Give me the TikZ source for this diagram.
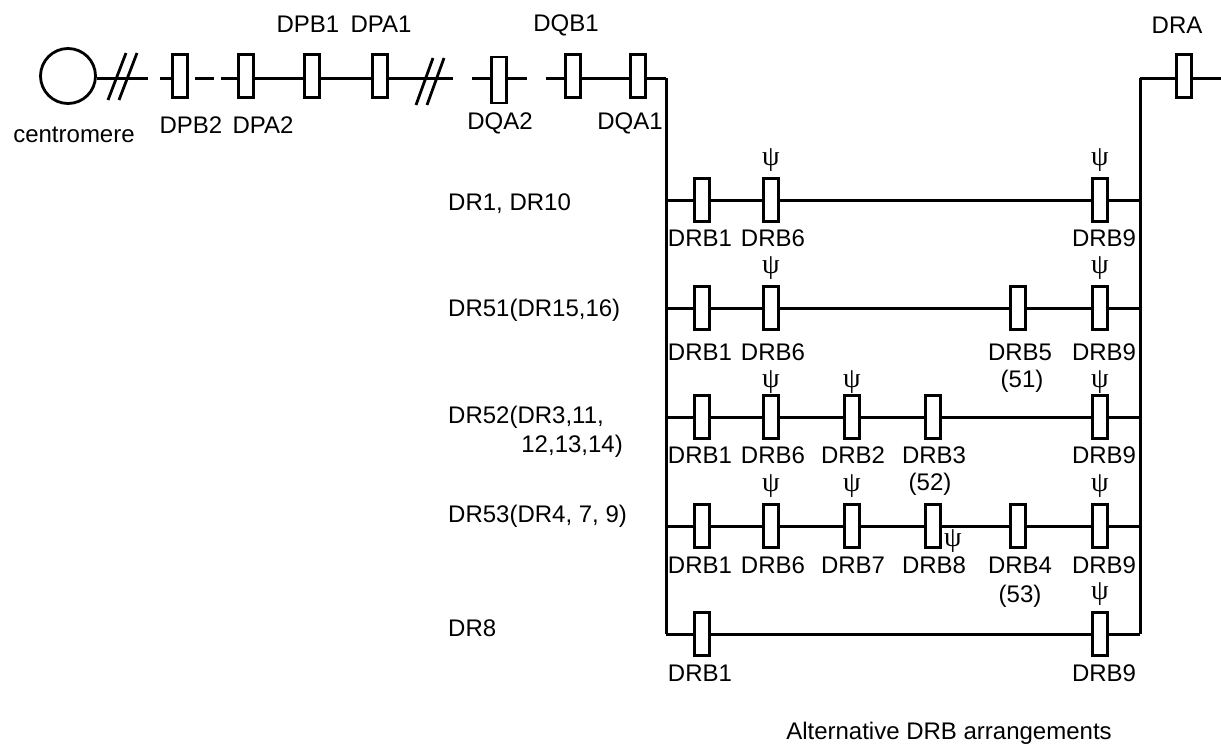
\documentclass[tikz,border=0pt]{standalone}
\usepackage{fontspec}
\setmainfont{Liberation Sans}
\newfontfamily\psifont{Liberation Serif}
\begin{document}
\begin{tikzpicture}[x=1pt,y=-1pt,
  wire/.style={line width=3pt},
  gene/.style={draw,line width=2.6pt,fill=white,minimum width=15pt,minimum height=43pt,inner sep=0pt},
  lbl/.style={font=\fontsize{24}{28}\selectfont,inner sep=0pt},
  psi/.style={font=\psifont\fontsize{28}{30}\selectfont,inner sep=0pt},
  brk/.style={line width=2.8pt}]
\useasboundingbox (0,0) rectangle (1221,745);
% ---------- top chain ----------
\node[draw,circle,line width=2.8pt,minimum size=55pt,inner sep=0pt] (cen) at (68,76) {};
\coordinate (c1) at (148,78);
\coordinate (c2) at (160,78);
\node[gene] (dpb2) at (180,76) {};
\coordinate (d1) at (195,78);
\coordinate (d2) at (214,78);
\coordinate (d3) at (221,78);
\node[gene] (dpa2) at (246,76) {};
\node[gene] (dpb1) at (312,76) {};
\node[gene] (dpa1) at (380,76) {};
\coordinate (c3) at (453,78);
\coordinate (c4) at (472,78);
\node[gene,minimum height=46pt] (dqa2) at (499,80) {};
\coordinate (c5) at (527,78);
\coordinate (c6) at (546,78);
\node[gene] (dqb1) at (573,76) {};
\node[gene] (dqa1) at (638,76) {};
\coordinate (tl) at (666,78);
\coordinate (tr) at (1140,78);
\node[gene] (dra) at (1184,76) {};
\coordinate (endr) at (1221,78);

\draw[wire] (cen.east |- c1) -- (c1);
\draw[brk] (108,100) -- (126,53);
\draw[brk] (119,100) -- (137,53);
\draw[wire] (c2) -- (c2 -| dpb2.west);
\draw[wire] (d1) -- (d2);
\draw[wire] (d3) -- (d3 -| dpa2.west);
\draw[wire] (dpa2.east |- c1) -- (dpb1.west |- c1);
\draw[wire] (dpb1.east |- c1) -- (dpa1.west |- c1);
\draw[wire] (dpa1.east |- c1) -- (c3);
\draw[brk] (416,105) -- (433,58);
\draw[brk] (427,105) -- (444,58);
\draw[wire] (c4) -- (c4 -| dqa2.west);
\draw[wire] (dqa2.east |- c5) -- (c5);
\draw[wire] (c6) -- (c6 -| dqb1.west);
\draw[wire] (dqb1.east |- c6) -- (dqa1.west |- c6);
\draw[wire] (dqa1.east |- c6) -- (tl);
\draw[wire] (tr) -- (tr -| dra.west);
\draw[wire] (dra.east |- tr) -- (endr);

\node[lbl] (tdpb1) at (308,24) {DPB1};
\node[lbl] (tdpa1) at (381,24) {DPA1};
\node[lbl] (tdqb1) at (566,25) {DQB1};
\node[lbl] (tdra) at (1177,25) {DRA};
\node[lbl] (tcen) at (74,135) {centromere};
\node[lbl] (tdpb2) at (191,125) {DPB2};
\node[lbl] (tdpa2) at (263,125) {DPA2};
\node[lbl] (tdqa2) at (500,123) {DQA2};
\node[lbl] (tdqa1) at (630,123) {DQA1};

% ---------- rows ----------
\foreach \n/\y in {1/200,2/308,3/417,4/526,5/634}{
  \coordinate (L\n) at (666,\y);
  \coordinate (R\n) at (1140,\y);
}
\draw[wire] (tl) -- (L1) -- (L2) -- (L3) -- (L4) -- (L5);
\draw[wire] (R5) -- (R4) -- (R3) -- (R2) -- (R1) -- (tr);

% row 1
\node[gene] (a1) at (702,200) {};
\node[gene] (a6) at (771,200) {};
\node[gene] (a9) at (1100,200) {};
\draw[wire] (L1) -- (a1) -- (a6) -- (a9) -- (R1);
\node[psi] (pa6) at (771,160) {ψ};
\node[psi] (pa9) at (1100,160) {ψ};
\node[lbl] (ta1) at (700,238) {DRB1};
\node[lbl] (ta6) at (773,238) {DRB6};
\node[lbl] (ta9) at (1104,238) {DRB9};
\node[lbl,anchor=west] (r1) at (448,204) {DR1, DR10};

% row 2
\node[gene] (b1) at (702,308) {};
\node[gene] (b6) at (771,308) {};
\node[gene] (b5) at (1018,308) {};
\node[gene] (b9) at (1100,308) {};
\draw[wire] (L2) -- (b1) -- (b6) -- (b5) -- (b9) -- (R2);
\node[psi] (pb6) at (771,268) {ψ};
\node[psi] (pb9) at (1100,268) {ψ};
\node[lbl] (tb1) at (700,352) {DRB1};
\node[lbl] (tb6) at (773,352) {DRB6};
\node[lbl] (tb5) at (1020,352) {DRB5};
\node[lbl] (tb9) at (1104,352) {DRB9};
\node[lbl] (tb51) at (1022,381) {(51)};
\node[lbl,anchor=west] (r2) at (448,310) {DR51(DR15,16)};

% row 3
\node[gene] (c1b) at (702,417) {};
\node[gene] (c6b) at (771,417) {};
\node[gene] (c2b) at (852,417) {};
\node[gene] (c3b) at (933,417) {};
\node[gene] (c9b) at (1100,417) {};
\draw[wire] (L3) -- (c1b) -- (c6b) -- (c2b) -- (c3b) -- (c9b) -- (R3);
\node[psi] (pc6) at (771,382) {ψ};
\node[psi] (pc2) at (852,382) {ψ};
\node[psi] (pc9) at (1100,382) {ψ};
\node[lbl] (tc1) at (700,455) {DRB1};
\node[lbl] (tc6) at (773,455) {DRB6};
\node[lbl] (tc2) at (853,455) {DRB2};
\node[lbl] (tc3) at (934,455) {DRB3};
\node[lbl] (tc9) at (1104,455) {DRB9};
\node[lbl] (tc52) at (930,484) {(52)};
\node[lbl,anchor=west] (r3a) at (448,417) {DR52(DR3,11,};
\node[lbl,anchor=east] (r3b) at (623,446) {12,13,14)};

% row 4
\node[gene] (e1) at (702,526) {};
\node[gene] (e6) at (771,526) {};
\node[gene] (e7) at (852,526) {};
\node[gene] (e8) at (933,526) {};
\node[gene] (e4) at (1018,526) {};
\node[gene] (e9) at (1100,526) {};
\draw[wire] (L4) -- (e1) -- (e6) -- (e7) -- (e8) -- (e4) -- (e9) -- (R4);
\node[psi] (pe6) at (771,486) {ψ};
\node[psi] (pe7) at (852,486) {ψ};
\node[psi] (pe9) at (1100,486) {ψ};
\node[psi] (pe8) at (953,541) {ψ};
\node[lbl] (te1) at (700,565) {DRB1};
\node[lbl] (te6) at (773,565) {DRB6};
\node[lbl] (te7) at (853,565) {DRB7};
\node[lbl] (te8) at (934,565) {DRB8};
\node[lbl] (te4) at (1020,565) {DRB4};
\node[lbl] (te9) at (1104,565) {DRB9};
\node[lbl] (te53) at (1020,596) {(53)};
\node[lbl,anchor=west] (r4) at (448,516) {DR53(DR4, 7, 9)};

% row 5
\node[gene] (f1) at (702,634) {};
\node[gene] (f9) at (1100,634) {};
\draw[wire] (L5) -- (f1) -- (f9) -- (R5);
\node[psi] (pf9) at (1100,594) {ψ};
\node[lbl] (tf1) at (700,673) {DRB1};
\node[lbl] (tf9) at (1104,673) {DRB9};
\node[lbl,anchor=west] (r5) at (448,628) {DR8};

\node[lbl] (alt) at (949,733) {Alternative DRB arrangements};
\end{tikzpicture}
\end{document}
